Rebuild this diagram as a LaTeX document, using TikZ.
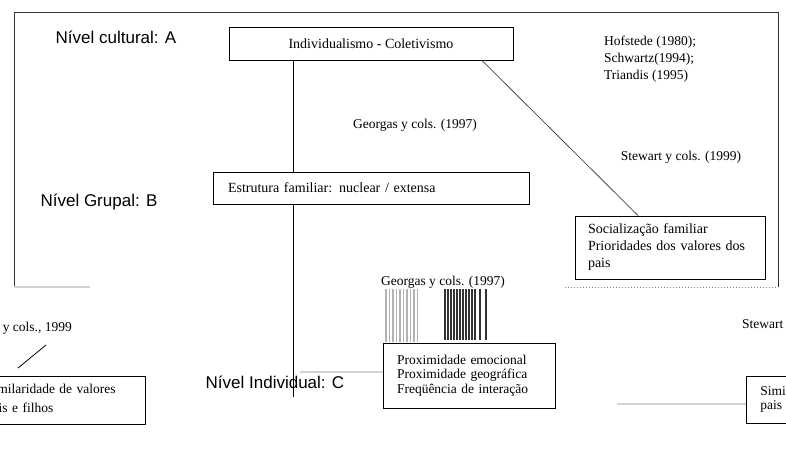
\documentclass[tikz,border=0pt]{standalone}
\usepackage{fontspec}
\setmainfont{Liberation Serif}
\newfontfamily\nivelfont{Liberation Sans}
\begin{document}
\begin{tikzpicture}[x=1pt, y=-1pt,
		caixa/.style={draw, line width=0.9pt, inner ysep=0pt,
			font=\fontsize{14}{17}\selectfont},
		nivel/.style={font=\nivelfont\fontsize{17}{20}\selectfont},
		citacao/.style={inner sep=0pt, font=\fontsize{13.5}{17}\selectfont},
		linha/.style={line width=0.8pt},
		resto/.style={gray!35, line width=1.5pt}
	]
		\clip (0,0) rectangle (786,448);
		% quadro
		\draw [line width=1pt, black!80]
		(14,287) -- (14,12) -- (778,12) -- (778,287);
		\draw [resto] (14,287) -- (90,287);
		\draw [gray, dotted, line width=1pt] (565,287) -- (778,287);
		% niveis
		\node [nivel] (nivelA) at (116,37) {Nível cultural: A};
		\node [nivel] (nivelB) at (99,202) {Nível Grupal: B};
		% caixas
		\node [caixa, minimum width=284pt, minimum height=33pt]
		(indiv) at (371,43.5) {Individualismo - Coletivismo};
		\node [caixa, text width=286pt, inner xsep=15pt, minimum height=32pt, align=left]
		(estrut) at (371,188) {Estrutura familiar: nuclear / extensa};
		\node [caixa, text width=164pt, inner xsep=13pt, minimum height=63pt, align=left]
		(socializ) at (670,247.5) {Socialização familiar\\Prioridades dos valores dos\\pais};
		\node [caixa, text width=144pt, inner xsep=14pt, minimum height=65pt, align=left,
		font=\fontsize{13.5}{14.5}\selectfont]
		(proxim) at (469,375.5) {Proximidade emocional\\Proximidade geográfica\\Freqüência de interação};
		\node [caixa, text width=145pt, inner xsep=14pt, minimum height=48pt, align=left,
		font=\fontsize{13.5}{19}\selectfont]
		(simil) at (58.5,400) {Similaridade de valores\\pais e filhos};
		\node [caixa, text width=160pt, inner xsep=14pt, minimum height=47pt, align=left,
		font=\fontsize{13.5}{14}\selectfont, anchor=west]
		(similB) at (746,399.5) {Similaridade de valores\\pais e filhos};
		% citacoes
		\node [citacao, align=left, anchor=west] (hofstede) at (604,59)
		{Hofstede (1980);\\Schwartz(1994);\\Triandis (1995)};
		\node [citacao] (georgas) at (415,125) {Georgas y cols. (1997)};
		\node [citacao] (stewart) at (681,157) {Stewart y cols. (1999)};
		\node [citacao] (georgasB) at (443,282) {Georgas y cols. (1997)};
		\node [citacao, anchor=west] (stewartB) at (742,325) {Stewart y cols. (1999)};
		\node [citacao, anchor=west] (stewartC) at (-42,328) {Stewart y cols., 1999};
		% linhas
		\coordinate (eixo) at (293,0);
		\coordinate (eixofim) at (293,397);
		\coordinate (diag) at (482,0);
		\coordinate (diagfim) at (638,0);
		\draw [linha] (indiv.south -| eixo) -- (estrut.north -| eixo);
		\draw [linha] (estrut.south -| eixo) -- (eixofim);
		\draw [linha, black!70] (indiv.south -| diag) -- (socializ.north -| diagfim);
		\coordinate (esqA) at (18,368);
		\coordinate (esqB) at (46,345);
		\draw [linha] (esqA) -- (esqB);
		\coordinate (cinzaA) at (300,372);
		\draw [resto] (cinzaA) -- (cinzaA -| proxim.west);
		\coordinate (cinzaB) at (617,404);
		\draw [resto, line width=2pt] (cinzaB) -- (cinzaB -| similB.west);
		% listras
		\foreach \sx in {386,389.5,...,420}
		\draw [gray!60, line width=1.2pt] (\sx,289) -- (\sx,342);
		\foreach \sx in {445,448,...,475}
		\draw [black!80, line width=1.2pt] (\sx,289) -- (\sx,340);
		\draw [black!80, line width=1.2pt] (480,289) -- (480,340);
		\draw [black!80, line width=1.2pt] (486,289) -- (486,340);
		\node [nivel] (nivelC) at (275,382) {Nível Individual: C};
\end{tikzpicture}
\end{document}
